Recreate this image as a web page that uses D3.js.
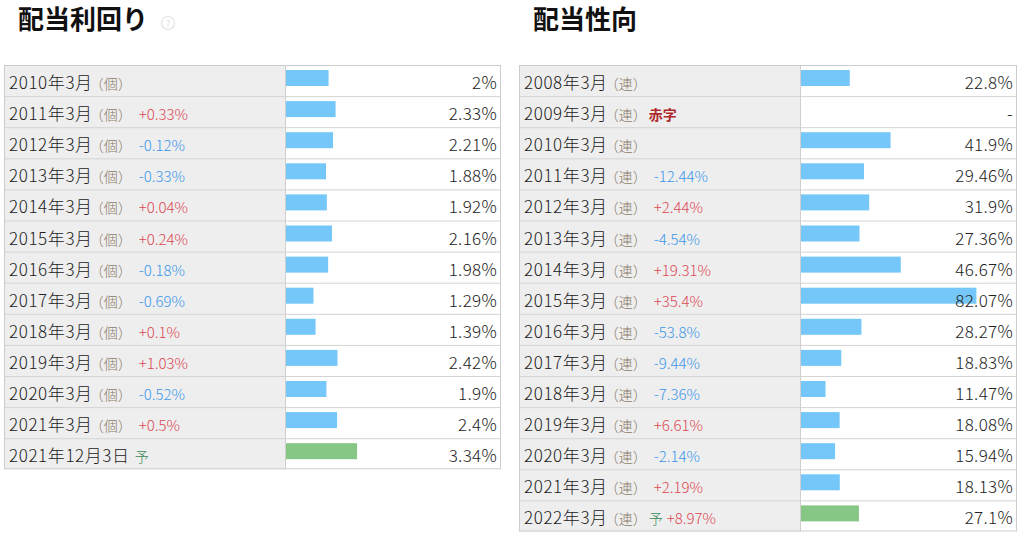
<!DOCTYPE html>
<html><head><meta charset="utf-8">
<script src="https://cdn.jsdelivr.net/npm/d3@7"></script>
<style>
html,body{margin:0;padding:0;background:#fff;}
svg{display:block;font-family:"Noto Sans CJK JP","Noto Sans",sans-serif;}
</style></head>
<body>
<script>
// ---- Data: 配当利回り ----
const yieldDates   = ["2010年3月","2011年3月","2012年3月","2013年3月","2014年3月","2015年3月","2016年3月","2017年3月","2018年3月","2019年3月","2020年3月","2021年3月","2021年12月3日"];
const yieldUnits   = ["個","個","個","個","個","個","個","個","個","個","個","個",""];
const yieldChanges = [null,0.33,-0.12,-0.33,0.04,0.24,-0.18,-0.69,0.1,1.03,-0.52,0.5,null];
const yieldValues  = [2,2.33,2.21,1.88,1.92,2.16,1.98,1.29,1.39,2.42,1.9,2.4,3.34];
const yieldForecast= [false,false,false,false,false,false,false,false,false,false,false,false,true];

// ---- Data: 配当性向 ----
const payoutDates   = ["2008年3月","2009年3月","2010年3月","2011年3月","2012年3月","2013年3月","2014年3月","2015年3月","2016年3月","2017年3月","2018年3月","2019年3月","2020年3月","2021年3月","2022年3月"];
const payoutUnits   = ["連","連","連","連","連","連","連","連","連","連","連","連","連","連","連"];
const payoutChanges = [null,null,null,-12.44,2.44,-4.54,19.31,35.4,-53.8,-9.44,-7.36,6.61,-2.14,2.19,8.97];
const payoutValues  = [22.8,null,41.9,29.46,31.9,27.36,46.67,82.07,28.27,18.83,11.47,18.08,15.94,18.13,27.1];
const payoutDeficit = [false,true,false,false,false,false,false,false,false,false,false,false,false,false,false];
const payoutForecast= [false,false,false,false,false,false,false,false,false,false,false,false,false,false,true];

const W=1024,H=537;
const svg=d3.select("body").append("svg").attr("width",W).attr("height",H);

function fmt(v){ return (Math.round(v*100)/100).toString(); }

function table(opts){
  const {x0,x1,split,top,rowH,title,help,dates,units,changes,values,forecast,deficit,domainMax}=opts;
  const n=dates.length;
  const g=svg.append("g");
  // title
  const t=g.append("text").attr("x",x0+14).attr("y",29).attr("font-size",26).attr("font-weight","bold").attr("fill","#111").text(title);
  if(help){
    const tl=t.node().getComputedTextLength();
    const cx=x0+14+tl+20;
    g.append("circle").attr("cx",cx).attr("cy",23).attr("r",6.5).attr("fill","none").attr("stroke","#e2e2e2").attr("stroke-width",1.2);
    g.append("text").attr("x",cx).attr("y",27).attr("text-anchor","middle").attr("font-size",9).attr("fill","#d8d8d8").text("?");
  }
  const y=d3.scaleBand().domain(d3.range(n)).range([top,top+n*rowH]).paddingInner(0);
  const xs=d3.scaleLinear().domain([0,domainMax]).range([0,(x1-split)*0.985]);
  // label column background
  g.append("rect").attr("x",x0).attr("y",top).attr("width",split-x0).attr("height",n*rowH).attr("fill","#eeeeee");
  g.append("rect").attr("x",split).attr("y",top).attr("width",x1-split).attr("height",n*rowH).attr("fill","#fff");
  const rows=g.selectAll("g.row").data(d3.range(n)).join("g").attr("class","row").attr("transform",i=>`translate(0,${y(i)})`);
  // bars
  rows.filter(i=>values[i]!=null).append("rect")
    .attr("x",split+1).attr("y",5).attr("height",16)
    .attr("width",i=>xs(values[i]))
    .attr("fill",i=>forecast[i]?"#86c786":"#74c7f8");
  // row separators
  rows.filter(i=>i>0).append("line").attr("x1",x0).attr("x2",x1).attr("y1",0.5).attr("y2",0.5).attr("stroke","#d4d4d4");
  // labels
  const lab=rows.append("text").attr("x",x0+5).attr("y",24).attr("fill","#222").attr("font-weight",300);
  lab.append("tspan").attr("font-size",17).attr("letter-spacing",0.6).text(i=>dates[i]);
  lab.filter(i=>units[i]).append("tspan").attr("font-size",14).attr("fill","#8a7a68").attr("dx",-3).text(i=>"（"+units[i]+"）");
  lab.filter(i=>deficit&&deficit[i]).append("tspan").attr("font-size",14).attr("font-weight","bold").attr("fill","#b0282c").attr("dx",2).text("赤字");
  lab.filter(i=>forecast[i]).append("tspan").attr("font-size",14).attr("fill","#3c8a5c").attr("dx",i=>units[i]?2:5).text("予");
  lab.filter(i=>changes[i]!=null).append("tspan").attr("font-size",15)
    .attr("dx",i=>forecast[i]?4:7)
    .attr("fill",i=>changes[i]>=0?"#dc4852":"#3b97ea")
    .text(i=>(changes[i]>=0?"+":"")+fmt(changes[i])+"%");
  // values
  rows.append("text").attr("x",x1-4).attr("y",24).attr("text-anchor","end").attr("font-size",17).attr("font-weight",300).attr("fill","#222").attr("letter-spacing",0.3)
    .text(i=>values[i]==null?"-":fmt(values[i])+"%");
  // column separator and outer border
  g.append("line").attr("x1",split+0.5).attr("x2",split+0.5).attr("y1",top).attr("y2",top+n*rowH).attr("stroke","#cfcfcf");
  g.append("rect").attr("x",x0+0.5).attr("y",top+0.5).attr("width",x1-x0-1).attr("height",n*rowH-1).attr("fill","none").attr("stroke","#cccccc");
}

table({x0:4,x1:501,split:285,top:65,rowH:31.1,title:"配当利回り",help:true,
  dates:yieldDates,units:yieldUnits,changes:yieldChanges,values:yieldValues,forecast:yieldForecast,deficit:null,domainMax:10});
table({x0:519,x1:1017,split:800,top:65,rowH:31.1,title:"配当性向",help:false,
  dates:payoutDates,units:payoutUnits,changes:payoutChanges,values:payoutValues,forecast:payoutForecast,deficit:payoutDeficit,domainMax:100});
</script>
</body></html>
